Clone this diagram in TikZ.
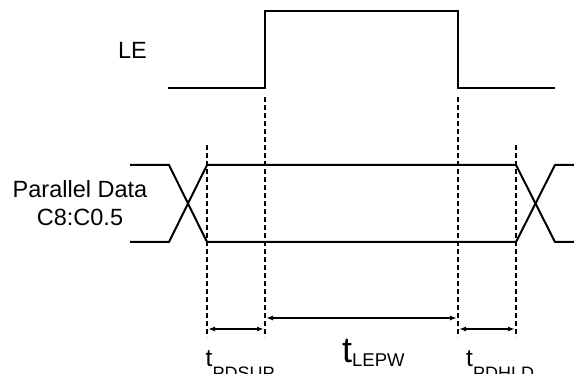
\documentclass[tikz,border=0pt]{standalone}
\usepackage{fontspec}
\setmainfont{Liberation Sans}
\usetikzlibrary{arrows.meta}
\begin{document}
\begin{tikzpicture}[x=1pt,y=-1pt,
  sig/.style={line width=2pt,line join=miter},
  guide/.style={line width=1.8pt,dash pattern=on 5pt off 3pt},
  dim/.style={line width=1.5pt,{Latex[length=7pt,width=5pt]}-{Latex[length=7pt,width=5pt]}},
  lbl/.style={inner sep=0pt,font=\fontsize{23.5}{28}\selectfont}]
\useasboundingbox (0,0) rectangle (574,374);
% LE waveform
\coordinate (le0) at (168,88);
\coordinate (le1) at (265,88);
\coordinate (le2) at (265,11);
\coordinate (le3) at (458,11);
\coordinate (le4) at (458,88);
\coordinate (le5) at (555,88);
\draw[sig] (le0) -- (le1) -- (le2) -- (le3) -- (le4) -- (le5);
% Data waveform
\coordinate (dlt) at (130,165);
\coordinate (dlb) at (130,242);
\coordinate (dxt) at (169,165);
\coordinate (dxb) at (169,242);
\coordinate (dat) at (207,165);
\coordinate (dab) at (207,242);
\coordinate (dbt) at (516,165);
\coordinate (dbb) at (516,242);
\coordinate (dyt) at (555,165);
\coordinate (dyb) at (555,242);
\coordinate (drt) at (574,165);
\coordinate (drb) at (574,242);
\draw[sig] (dlt) -- (dxt) -- (dab) -- (dbb) -- (dyt) -- (drt);
\draw[sig] (dlb) -- (dxb) -- (dat) -- (dbt) -- (dyb) -- (drb);
% guides
\coordinate (g1t) at (207,145); \coordinate (g1b) at (207,337);
\coordinate (g2t) at (265,97);  \coordinate (g2b) at (265,337);
\coordinate (g3t) at (458,97);  \coordinate (g3b) at (458,337);
\coordinate (g4t) at (516,145); \coordinate (g4b) at (516,337);
\draw[guide] (g1t) -- (g1b);
\draw[guide] (g2t) -- (g2b);
\draw[guide] (g3t) -- (g3b);
\draw[guide] (g4t) -- (g4b);
% dimension arrows
\coordinate (a1l) at (208,329); \coordinate (a1r) at (264,329);
\coordinate (a2l) at (266,318); \coordinate (a2r) at (457,318);
\coordinate (a3l) at (459,329); \coordinate (a3r) at (515,329);
\draw[dim] (a1l) -- (a1r);
\draw[dim] (a2l) -- (a2r);
\draw[dim] (a3l) -- (a3r);
% labels
\node[lbl,anchor=base east] (le) at (147,59) {LE};
\node[lbl,anchor=base] (pd1) at (80,198) {Parallel Data};
\node[lbl,anchor=base] (pd2) at (80,226) {C8:C0.5};
\node[inner sep=0pt,anchor=base west] (tsup) at (205.5,367)
  {\fontsize{24.5}{28}\selectfont t\raisebox{-13pt}{\fontsize{18}{20}\selectfont PDSUP}};
\node[inner sep=0pt,anchor=base west] (tlepw) at (342,363)
  {\fontsize{36}{40}\selectfont t\raisebox{-4pt}{\fontsize{18.5}{20}\selectfont LEPW}};
\node[inner sep=0pt,anchor=base west] (thld) at (466,367)
  {\fontsize{24.5}{28}\selectfont t\raisebox{-13pt}{\fontsize{18}{20}\selectfont PDHLD}};
\end{tikzpicture}
\end{document}
